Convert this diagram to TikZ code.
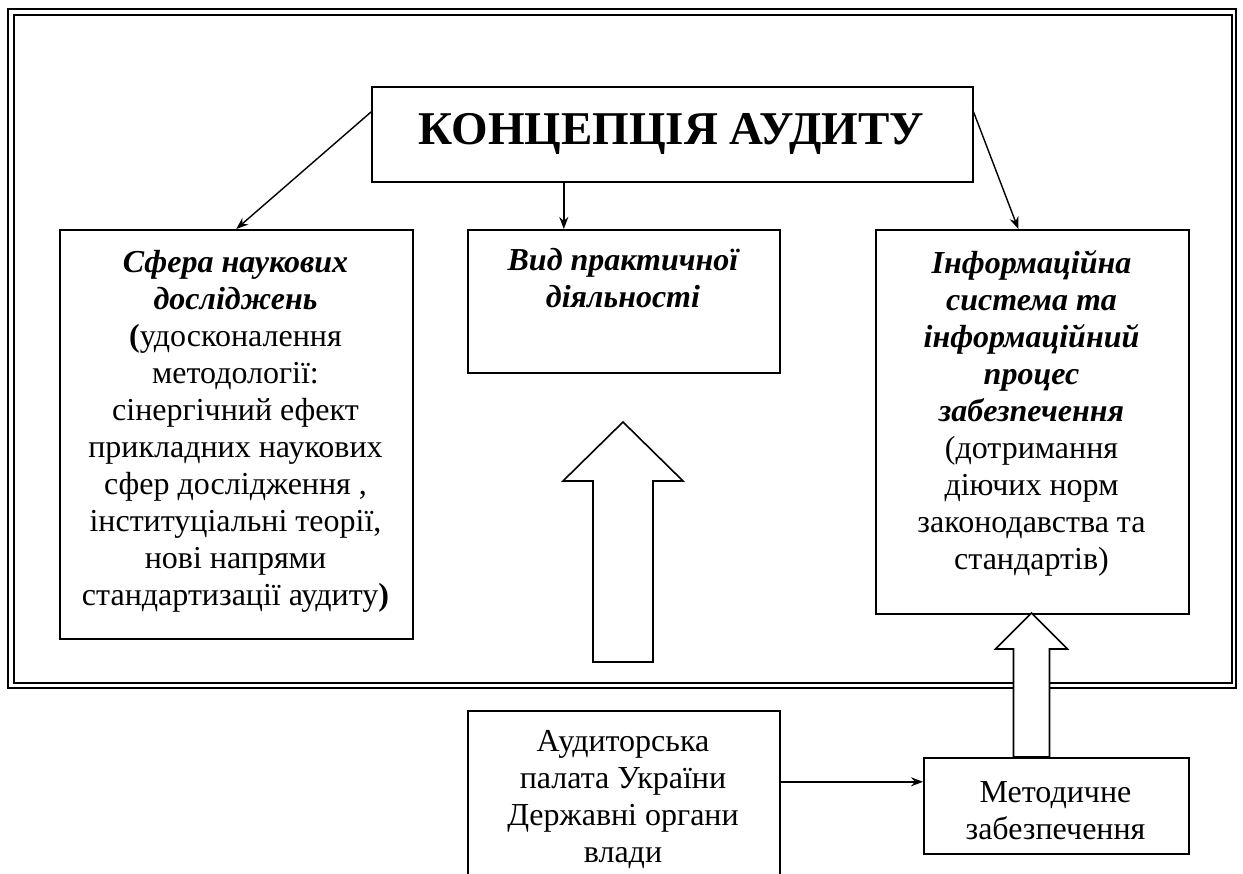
\documentclass[tikz,border=0pt]{standalone}
\usepackage{fontspec}
\setmainfont{Liberation Serif}
\usetikzlibrary{arrows.meta,calc}
\begin{document}
\begin{tikzpicture}[x=1pt,y=-1pt,
  frame/.style={draw=black,line width=2pt},
  box/.style={draw=black,line width=1.6pt,fill=none,inner sep=0pt,anchor=north west},
  txt/.style={align=center,inner sep=0pt,anchor=north,font=\fontsize{32}{37}\selectfont,execute at begin node=\strut},
  arr/.style={line width=1.4pt,-{Stealth[length=12pt,width=9pt]}},
  hollow/.style={draw=black,line width=1.6pt,fill=white,line join=miter}]
\useasboundingbox (0,0) rectangle (1243,874);
% outer double frame
\draw[frame] (8,9.5) rectangle (1236,688);
\draw[frame] (14,15.5) rectangle (1231.5,683);
% boxes
\node[box,minimum width=601pt,minimum height=95pt] (top) at (371,86) {};
\node[box,minimum width=353pt,minimum height=409pt] (left) at (59,229) {};
\node[box,minimum width=312pt,minimum height=143pt] (mid) at (467,229) {};
\node[box,minimum width=313pt,minimum height=384pt] (right) at (875,229) {};
\node[box,minimum width=312pt,minimum height=190pt] (aud) at (467,710) {};
\node[box,minimum width=265pt,minimum height=96pt] (met) at (923,757) {};
% texts
\node[anchor=base,inner sep=0pt,font=\fontsize{47}{52}\selectfont\bfseries] (title) at (671.5,145) {КОНЦЕПЦІЯ АУДИТУ};
\node[txt] (ltxt) at (235.5,250) {{\bfseries\itshape Сфера наукових}\\{\bfseries\itshape досліджень}\\{\bfseries(}удосконалення\\методології:\\сінергічний ефект\\прикладних наукових\\сфер дослідження ,\\інституціальні теорії,\\нові напрями\\стандартизації аудиту{\bfseries)}};
\node[txt] (mtxt) at (623,248) {{\bfseries\itshape Вид практичної}\\{\bfseries\itshape діяльності}};
\node[txt] (rtxt) at (1031.5,250) {{\bfseries\itshape Інформаційна}\\{\bfseries\itshape система та}\\{\bfseries\itshape інформаційний}\\{\bfseries\itshape процес}\\{\bfseries\itshape забезпечення}\\(дотримання\\діючих норм\\законодавства та\\стандартів)};
\node[txt] (atxt) at (623,730) {Аудиторська\\палата України\\Державні органи\\влади};
\node[txt] (mettxt) at (1055.5,781) {Методичне\\забезпечення};
% connectors
\draw[arr] ([yshift=-26pt]top.north west) -- (left.north);
\coordinate (mc) at ([xshift=-60pt]mid.north);
\draw[arr] (top.south -| mc) -- (mc);
\draw[arr] ([yshift=-26pt]top.north east) -- ([xshift=-14pt]right.north);
\draw[arr] ([yshift=24pt]met.west -| aud.east) -- ([yshift=24pt]met.west);
% big hollow arrow
\draw[hollow] (623,422) -- (683,481) -- (653,481) -- (653,662) -- (593,662) -- (593,481) -- (563,481) -- cycle;
% small hollow arrow from met to right box
\draw[hollow] (1031.5,613) -- (1067.5,649) -- (1049.5,649) -- (1049.5,757) -- (1013.5,757) -- (1013.5,649) -- (995.5,649) -- cycle;
\end{tikzpicture}
\end{document}
